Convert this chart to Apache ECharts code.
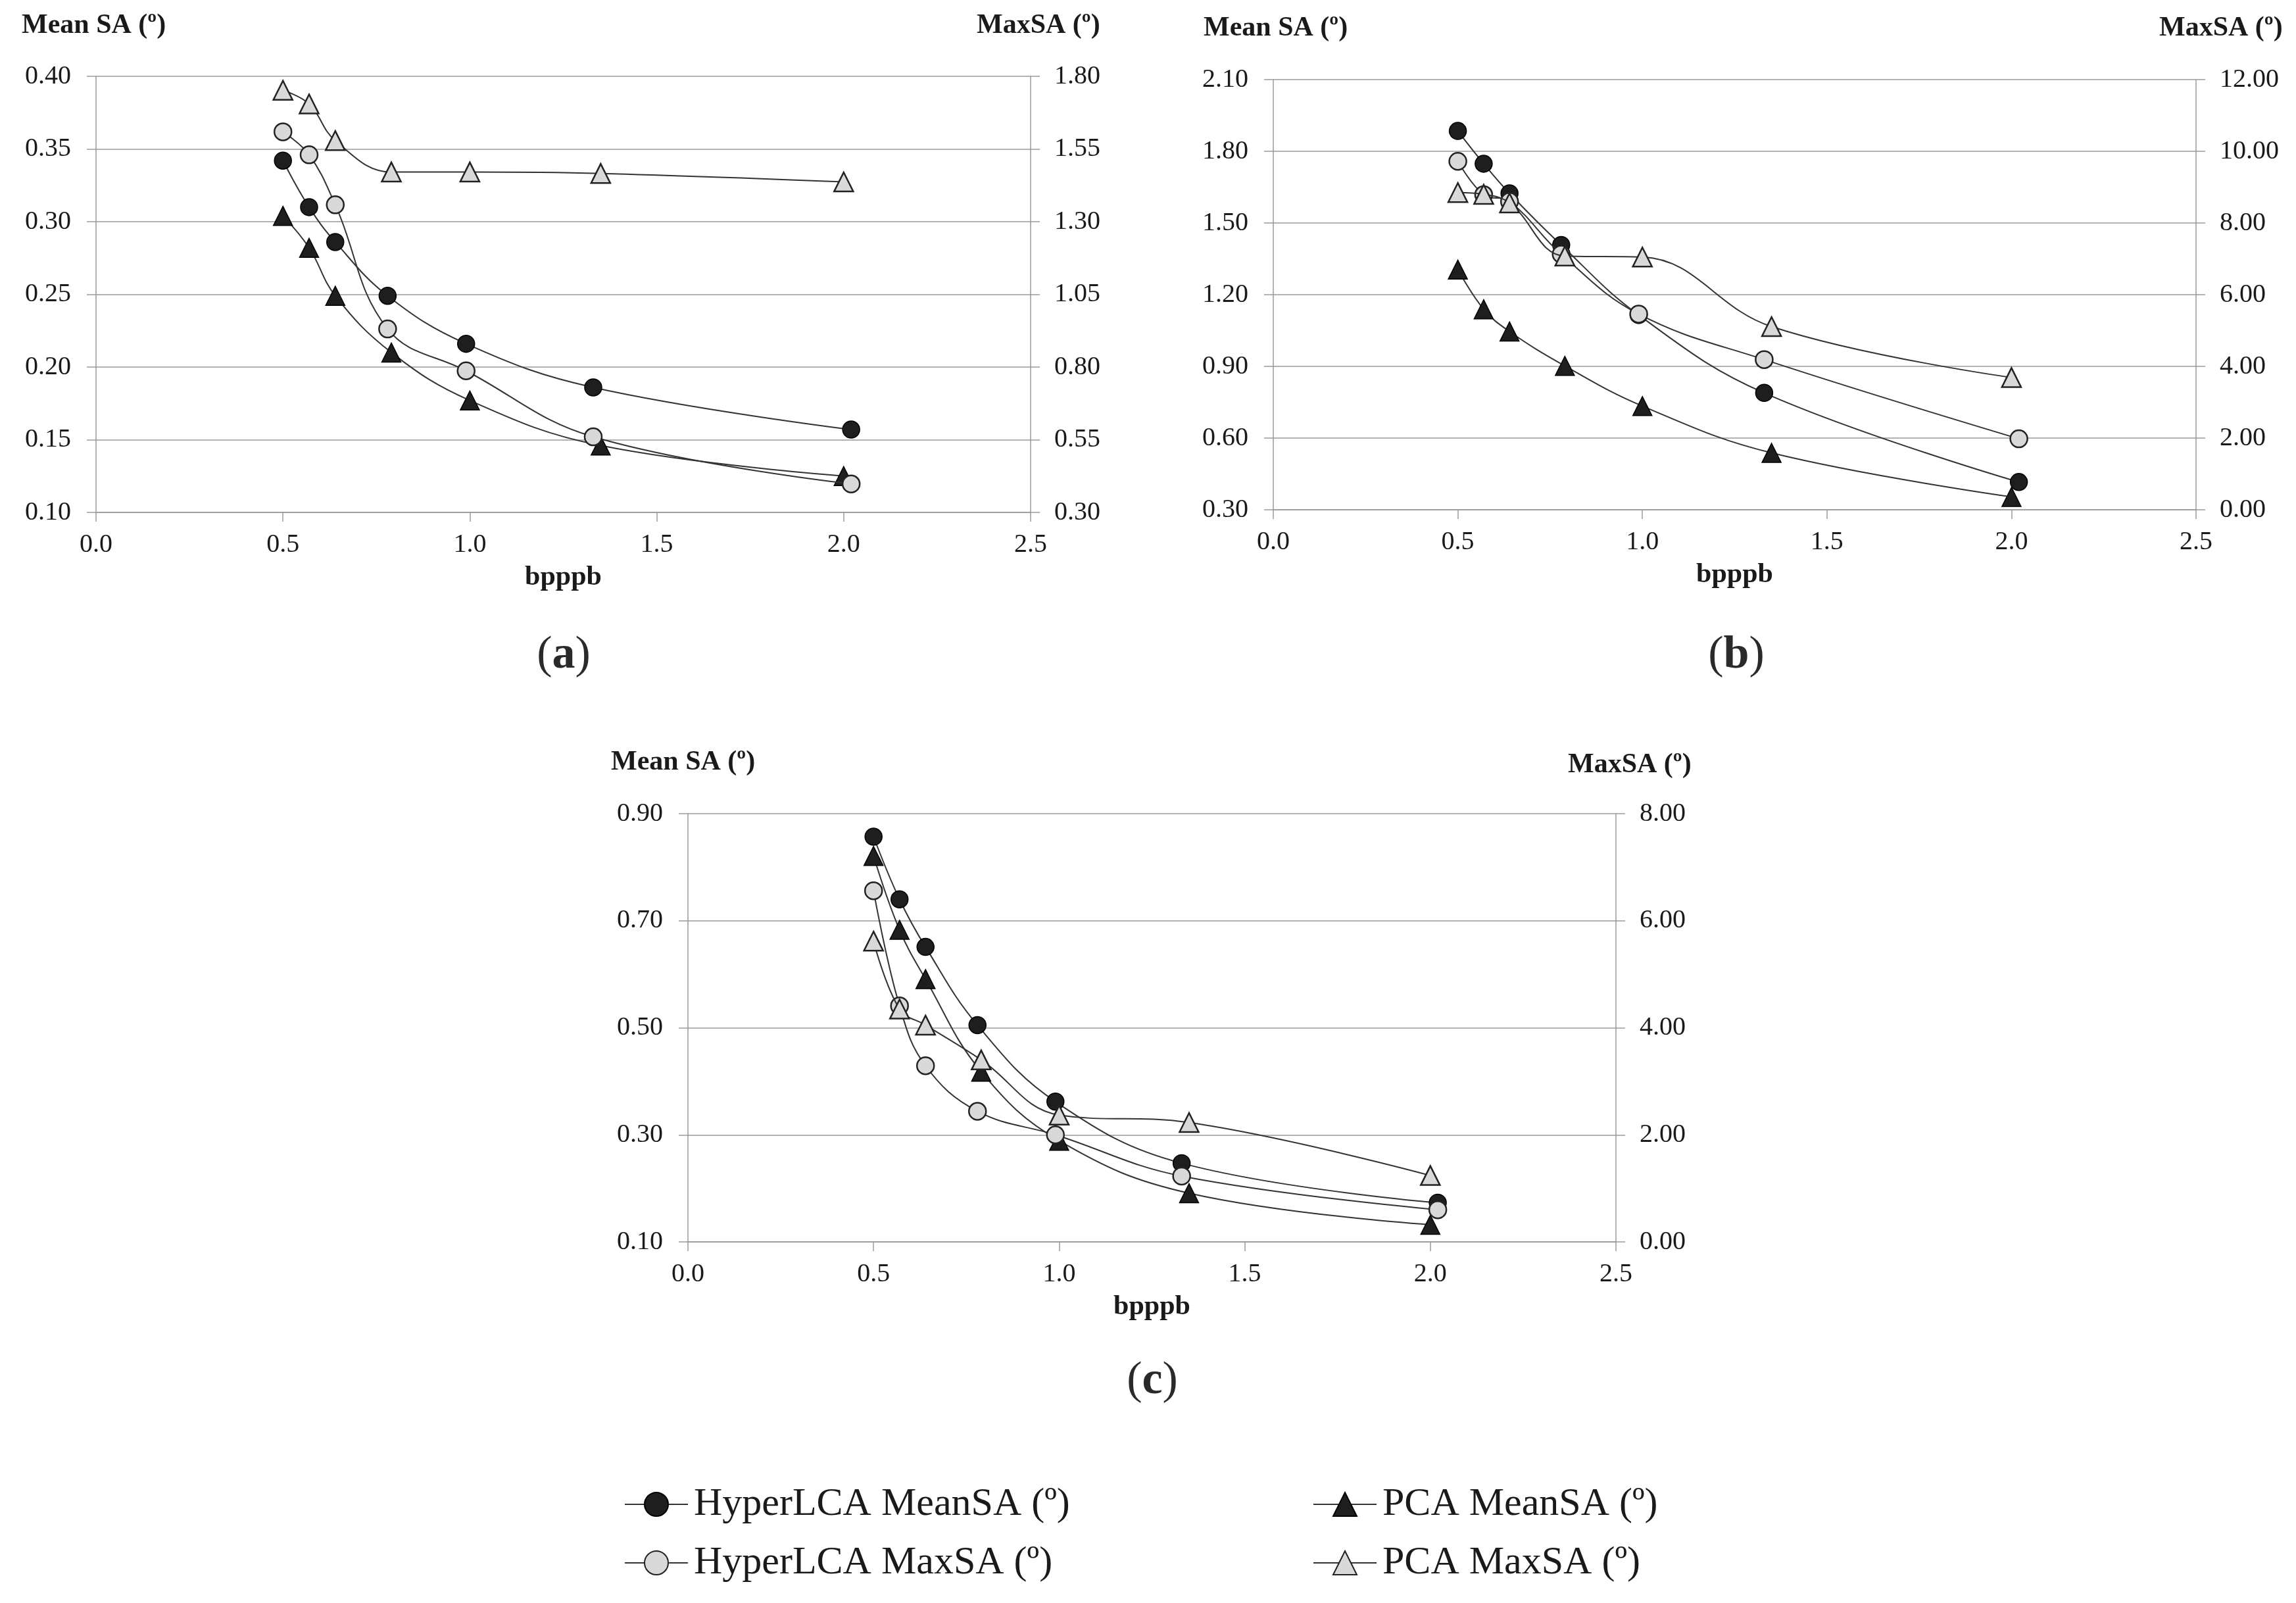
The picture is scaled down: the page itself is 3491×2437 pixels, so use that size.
<!DOCTYPE html>
<html><head><meta charset="utf-8">
<script src="https://cdn.jsdelivr.net/npm/echarts@6/dist/echarts.min.js"></script>
<style>html,body{margin:0;padding:0;background:#fff}#c{width:3491px;height:2437px}</style>
</head><body><div id="c"></div>
<script>
// ---------- DATA ----------
const seriesNames = ['HyperLCA MeanSA (º)', 'PCA MeanSA (º)', 'HyperLCA MaxSA (º)', 'PCA MaxSA (º)'];
const panelLabels = ['a', 'b', 'c'];
const xTitle = 'bpppb';
const leftTitle = 'Mean SA (º)';
const rightTitle = 'MaxSA (º)';

// bpppb values
const xHyper = [0.50, 0.57, 0.64, 0.78, 0.99, 1.33, 2.02];
const xPCA   = [0.50, 0.57, 0.64, 0.79, 1.00, 1.35, 2.00];

// Panel (a)
const aHyperMean = [0.342, 0.310, 0.286, 0.249, 0.216, 0.186, 0.157];
const aPCAMean   = [0.304, 0.282, 0.249, 0.210, 0.177, 0.146, 0.125];
const aHyperMax  = [1.609, 1.530, 1.358, 0.931, 0.787, 0.560, 0.398];
const aPCAMax    = [1.752, 1.705, 1.579, 1.471, 1.471, 1.466, 1.437];

// Panel (b)
const bHyperMean = [1.885, 1.748, 1.624, 1.408, 1.115, 0.789, 0.416];
const bPCAMean   = [1.305, 1.139, 1.046, 0.902, 0.734, 0.538, 0.354];
const bHyperMax  = [9.72, 8.79, 8.60, 7.13, 5.46, 4.19, 1.98];
const bPCAMax    = [8.85, 8.80, 8.56, 7.08, 7.05, 5.11, 3.69];

// Panel (c)
const cHyperMean = [0.857, 0.740, 0.651, 0.505, 0.362, 0.247, 0.173];
const cPCAMean   = [0.821, 0.683, 0.591, 0.418, 0.289, 0.191, 0.132];
const cHyperMax  = [6.56, 4.41, 3.29, 2.44, 2.00, 1.23, 0.60];
const cPCAMax    = [5.62, 4.35, 4.05, 3.40, 2.37, 2.23, 1.24];

// Axis ranges [min, max, interval]
const xRange = [0, 2.5, 0.5];
const leftRanges  = [[0.10, 0.40, 0.05], [0.30, 2.10, 0.30], [0.10, 0.90, 0.20]];
const rightRanges = [[0.30, 1.80, 0.25], [0.00, 12.00, 2.00], [0.00, 8.00, 2.00]];

// ---------- LAYOUT / STYLE ----------
const FONT = "'Liberation Serif', 'Times New Roman', serif";
const AXIS_C = '#9a9a9a';
const TXT_C = '#1a1a1a';
const LINE_C = '#333333';
const DARK = '#1e1e1e';
const LIGHT = '#d9d9d9';

const grids = [
  {left: 146, top: 116, width: 1421, height: 663},
  {left: 1936, top: 121, width: 1403, height: 654},
  {left: 1046, top: 1237, width: 1411, height: 651}
];
const titlePos = [
  {lx: 33, ly: 39, rx: 1485, ry: 39, px: 857, py: 997},
  {lx: 1830, ly: 43, rx: 3283, ry: 43, px: 2640, py: 997},
  {lx: 929, ly: 1159, rx: 2384, ry: 1163, px: 1752, py: 2100}
];

const panels = [
  [aHyperMean, aPCAMean, aHyperMax, aPCAMax],
  [bHyperMean, bPCAMean, bHyperMax, bPCAMax],
  [cHyperMean, cPCAMean, cHyperMax, cPCAMax]
];

const seriesStyle = [
  {symbol: 'circle', size: 26, fill: DARK, border: '#000', bw: 1.5, x: xHyper, axis: 0},
  {symbol: 'triangle', size: 29, fill: DARK, border: '#000', bw: 1.5, x: xPCA, axis: 0},
  {symbol: 'circle', size: 26, fill: LIGHT, border: '#222', bw: 2.5, x: xHyper, axis: 1},
  {symbol: 'triangle', size: 29, fill: LIGHT, border: '#222', bw: 2.5, x: xPCA, axis: 1}
];

const axisLine = {show: true, lineStyle: {color: AXIS_C, width: 1.5}};
const axisTick = {show: true, length: 14, lineStyle: {color: AXIS_C, width: 1.5}};
const labelStyle = {color: TXT_C, fontFamily: FONT, fontSize: 40};

const xAxes = [], yAxes = [], series = [], graphics = [];
grids.forEach((g, i) => {
  xAxes.push({
    type: 'value', gridIndex: i, min: xRange[0], max: xRange[1], interval: xRange[2],
    axisLine, axisTick, splitLine: {show: false},
    axisLabel: Object.assign({margin: 29, formatter: v => v.toFixed(1)}, labelStyle),
    name: xTitle, nameLocation: 'middle', nameGap: 78,
    nameTextStyle: {color: TXT_C, fontFamily: FONT, fontSize: 42, fontWeight: 'bold'}
  });
  const L = leftRanges[i], R = rightRanges[i];
  yAxes.push({
    type: 'value', gridIndex: i, position: 'left', min: L[0], max: L[1], interval: L[2],
    axisLine, axisTick,
    splitLine: {show: true, lineStyle: {color: AXIS_C, width: 1.5}},
    axisLabel: Object.assign({margin: 38, formatter: v => v.toFixed(2)}, labelStyle)
  });
  yAxes.push({
    type: 'value', gridIndex: i, position: 'right', min: R[0], max: R[1], interval: R[2],
    axisLine, axisTick, splitLine: {show: false},
    axisLabel: Object.assign({margin: 36, formatter: v => v.toFixed(2)}, labelStyle)
  });
  panels[i].forEach((vals, k) => {
    const s = seriesStyle[k];
    series.push({
      type: 'line', name: seriesNames[k],
      xAxisIndex: i, yAxisIndex: i * 2 + s.axis,
      data: s.x.map((x, j) => [x, vals[j]]),
      smooth: 0.4,
      symbol: s.symbol, symbolSize: s.size,
      lineStyle: {color: LINE_C, width: 2},
      itemStyle: {color: s.fill, borderColor: s.border, borderWidth: s.bw, opacity: 1},
      emphasis: {disabled: true},
      animation: false, z: 2 + k
    });
  });
  const t = titlePos[i];
  const tstyle = {fill: TXT_C, font: 'bold 42px ' + FONT, textVerticalAlign: 'middle'};
  graphics.push({type: 'text', x: t.lx, y: t.ly, style: Object.assign({text: leftTitle, textAlign: 'left'}, tstyle)});
  graphics.push({type: 'text', x: t.rx, y: t.ry, style: Object.assign({text: rightTitle, textAlign: 'left'}, tstyle)});
  graphics.push({type: 'text', x: t.px, y: t.py, style: {
    text: '{p|(}{b|' + panelLabels[i] + '}{p|)}', align: 'center', verticalAlign: 'middle',
    rich: {
      p: {fontSize: 70, fontFamily: FONT, fill: '#2a2a2a'},
      b: {fontSize: 70, fontFamily: FONT, fontWeight: 'bold', fill: '#2a2a2a'}
    }
  }});
});

const legendCommon = {
  orient: 'vertical', itemWidth: 96, itemHeight: 45, itemGap: 29,
  textStyle: {color: TXT_C, fontFamily: FONT, fontSize: 60, padding: [0, 0, 0, 4]},
  selectedMode: false
};

const chart = echarts.init(document.getElementById('c'), null, {renderer: 'canvas'});
chart.setOption({
  backgroundColor: '#ffffff',
  animation: false,
  grid: grids.map(g => Object.assign({outerBoundsMode: 'none', containLabel: false}, g)),
  xAxis: xAxes,
  yAxis: yAxes,
  series: series,
  legend: [
    Object.assign({left: 944, top: 2252, data: [seriesNames[0], seriesNames[2]]}, legendCommon),
    Object.assign({left: 1991, top: 2252, data: [seriesNames[1], seriesNames[3]]}, legendCommon)
  ],
  graphic: graphics
});
</script></body></html>
